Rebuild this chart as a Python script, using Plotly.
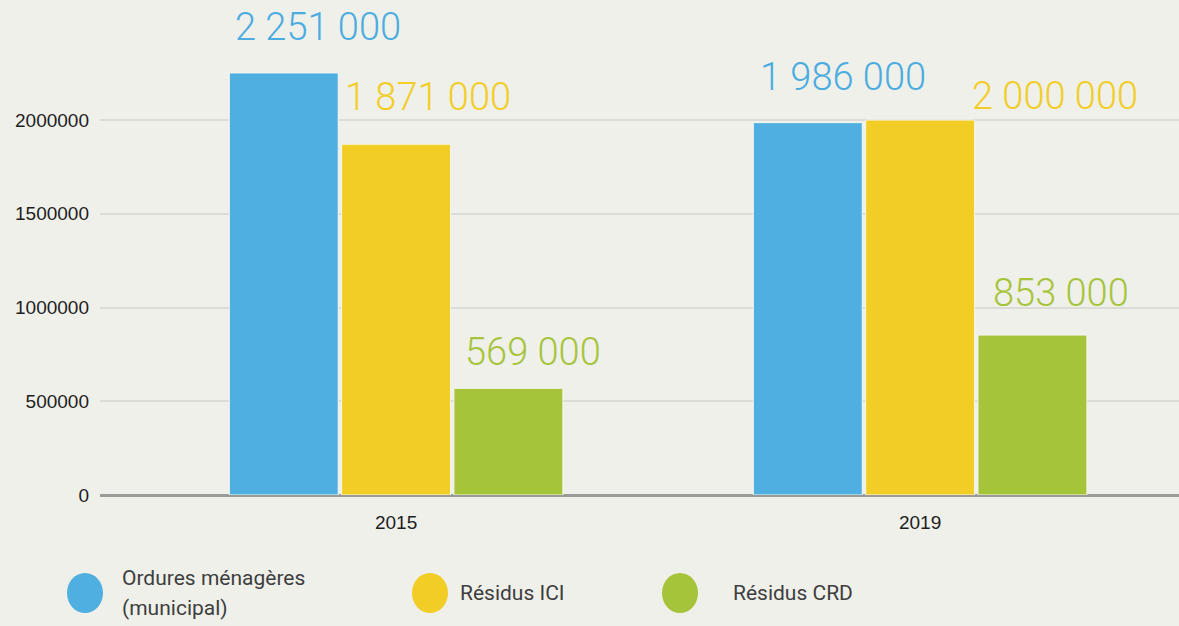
import plotly.graph_objects as go

years = ["2015", "2019"]
series_names = ["Ordures ménagères (municipal)", "Résidus ICI", "Résidus CRD"]
ordures = [2251000, 1986000]
ici = [1871000, 2000000]
crd = [569000, 853000]
label_text = {
    "ordures": ["2 251 000", "1 986 000"],
    "ici": ["1 871 000", "2 000 000"],
    "crd": ["569 000", "853 000"],
}
colors = ["#4EAFE0", "#F2CD26", "#A6C43A"]
label_colors = ["#4AACE0", "#F2CD26", "#A6C43A"]

# pixel layout
L, R, T, B = 100, 0, 10, 131
W, H = 1179, 626
pw, ph = W - L - R, H - T - B
y0px = 495
ymax = (y0px - T) / 375 * 2000000

fig = go.Figure()
for name, vals, col in zip(series_names, [ordures, ici, crd], colors):
    fig.add_trace(go.Bar(x=years, y=vals, name=name, marker=dict(color=col, line=dict(color="#F6F6F0", width=1)),
                         showlegend=False, hoverinfo="y"))

# label offsets (px) relative to category centre and bar top
xshifts = {"ordures": [-78, -77], "ici": [32, 135], "crd": [137, 141]}
yshifts = {"ordures": [46, 46], "ici": [47, 24], "crd": [36, 42]}
annotations = []
for key, vals, col in zip(["ordures", "ici", "crd"], [ordures, ici, crd], label_colors):
    for i, y in enumerate(years):
        annotations.append(dict(x=i, y=vals[i], xref="x", yref="y", text=label_text[key][i],
                                showarrow=False, xshift=xshifts[key][i], yshift=yshifts[key][i],
                                yanchor="middle", xanchor="center",
                                font=dict(family="Roboto", size=38, color=col, weight=300)))

def px_x(p):
    return (p - L) / pw

def px_y(p):
    return (H - B - p) / ph

legend_items = [
    (85, ["Ordures ménagères", "(municipal)"], 120),
    (430, ["Résidus ICI"], 458),
    (680, ["Résidus CRD"], 731),
]
shapes = []
for (cx, lines, tx), col in zip(legend_items, colors):
    shapes.append(dict(type="circle", xref="paper", yref="paper",
                       x0=px_x(cx - 18), x1=px_x(cx + 18), y0=px_y(613), y1=px_y(573),
                       fillcolor=col, line=dict(width=0)))
    if len(lines) == 1:
        annotations.append(dict(x=px_x(tx), y=px_y(593), xref="paper", yref="paper", text=lines[0],
                                showarrow=False, xanchor="left", yanchor="middle",
                                font=dict(family="Roboto", size=21, color="#3E3E3E")))
    else:
        for j, ln in enumerate(lines):
            annotations.append(dict(x=px_x(tx), y=px_y(578 + 30 * j), xref="paper", yref="paper", text=ln,
                                    showarrow=False, xanchor="left", yanchor="middle",
                                    font=dict(family="Roboto", size=21, color="#3E3E3E")))

bg = "#EFF0EA"
fig.update_layout(
    width=W, height=H,
    margin=dict(l=L, r=R, t=T, b=B),
    paper_bgcolor=bg, plot_bgcolor=bg,
    barmode="group", bargap=0.357, bargroupgap=0.03,
    annotations=annotations, shapes=shapes,
    xaxis=dict(type="category", range=[-0.565, 1.494], showgrid=False, showline=False,
               zeroline=False, ticks="", ticklabelstandoff=14,
               tickfont=dict(family="Liberation Sans", size=19, color="#1E1E1E")),
    yaxis=dict(range=[0, ymax], tickvals=[0, 500000, 1000000, 1500000, 2000000],
               ticktext=["0", "500000", "1000000", "1500000", "2000000"],
               showgrid=True, gridcolor="#DCDCD6", gridwidth=2,
               zeroline=True, zerolinecolor="#9A9A96", zerolinewidth=3,
               showline=False, ticks="", ticklabelstandoff=10,
               tickfont=dict(family="Liberation Sans", size=19, color="#1E1E1E")),
)

fig.write_html("out.html", config={"displayModeBar": False},
               post_script="document.body.style.margin='0';document.body.style.background='#EFF0EA';")
